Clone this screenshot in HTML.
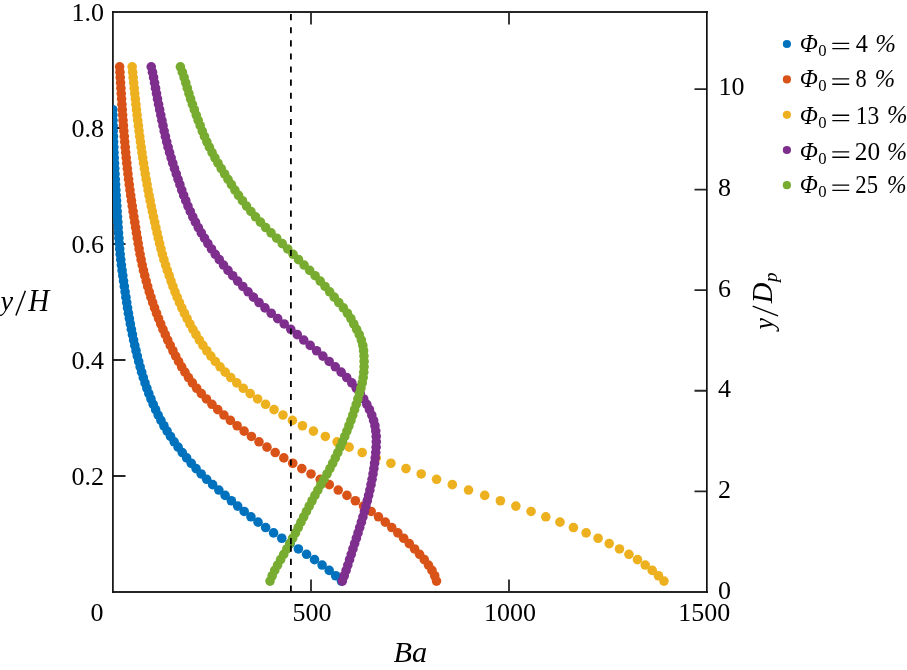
<!DOCTYPE html>
<html><head><meta charset="utf-8"><style>
html,body{margin:0;padding:0;background:#fff;overflow:hidden}
svg{display:block}
text{font-family:"Liberation Serif", serif;fill:#000}
.t{will-change:transform}
</style></head><body>
<svg width="907" height="670" viewBox="0 0 907 670">
<defs><clipPath id="c"><rect x="113.0" y="12.0" width="594.0" height="580.0"/></clipPath></defs>
<path d="M311.00 592.0V579.5M311.00 12.0V24.5M509.00 592.0V579.5M509.00 12.0V24.5M113.0 592.00H125.5M113.0 476.00H125.5M113.0 360.00H125.5M113.0 244.00H125.5M113.0 128.00H125.5M113.0 12.00H125.5M707.0 491.30H694.5M707.0 390.75H694.5M707.0 290.20H694.5M707.0 189.65H694.5M707.0 89.10H694.5" stroke="#262626" stroke-width="1.8" fill="none"/>
<path d="M112.1 12.0H707.9M112.1 592.0H707.9" stroke="#262626" stroke-width="1.8" fill="none"/>
<path d="M112.9 11.1V592.9M706.85 11.1V592.9" stroke="#111" stroke-width="1.7" fill="none"/>
<g clip-path="url(#c)">
<g fill="#0072BD"><circle cx="112.76" cy="109.66" r="4.8"/><circle cx="112.86" cy="115.02" r="4.8"/><circle cx="112.97" cy="120.37" r="4.8"/><circle cx="113.10" cy="125.73" r="4.8"/><circle cx="113.25" cy="131.09" r="4.8"/><circle cx="113.42" cy="136.44" r="4.8"/><circle cx="113.60" cy="141.80" r="4.8"/><circle cx="113.80" cy="147.16" r="4.8"/><circle cx="114.02" cy="152.52" r="4.8"/><circle cx="114.25" cy="157.87" r="4.8"/><circle cx="114.49" cy="163.23" r="4.8"/><circle cx="114.75" cy="168.59" r="4.8"/><circle cx="115.02" cy="173.95" r="4.8"/><circle cx="115.30" cy="179.30" r="4.8"/><circle cx="115.59" cy="184.66" r="4.8"/><circle cx="115.89" cy="190.02" r="4.8"/><circle cx="116.20" cy="195.38" r="4.8"/><circle cx="116.52" cy="200.73" r="4.8"/><circle cx="116.84" cy="206.09" r="4.8"/><circle cx="117.17" cy="211.45" r="4.8"/><circle cx="117.51" cy="216.80" r="4.8"/><circle cx="117.84" cy="222.16" r="4.8"/><circle cx="118.19" cy="227.52" r="4.8"/><circle cx="118.53" cy="232.88" r="4.8"/><circle cx="118.90" cy="238.23" r="4.8"/><circle cx="119.29" cy="243.59" r="4.8"/><circle cx="119.72" cy="248.95" r="4.8"/><circle cx="120.20" cy="254.31" r="4.8"/><circle cx="120.76" cy="259.66" r="4.8"/><circle cx="121.39" cy="265.02" r="4.8"/><circle cx="122.07" cy="270.38" r="4.8"/><circle cx="122.80" cy="275.73" r="4.8"/><circle cx="123.56" cy="281.09" r="4.8"/><circle cx="124.33" cy="286.45" r="4.8"/><circle cx="125.12" cy="291.81" r="4.8"/><circle cx="125.91" cy="297.16" r="4.8"/><circle cx="126.72" cy="302.52" r="4.8"/><circle cx="127.55" cy="307.88" r="4.8"/><circle cx="128.43" cy="313.24" r="4.8"/><circle cx="129.36" cy="318.59" r="4.8"/><circle cx="130.34" cy="323.95" r="4.8"/><circle cx="131.37" cy="329.31" r="4.8"/><circle cx="132.46" cy="334.66" r="4.8"/><circle cx="133.60" cy="340.02" r="4.8"/><circle cx="134.78" cy="345.38" r="4.8"/><circle cx="136.02" cy="350.74" r="4.8"/><circle cx="137.32" cy="356.09" r="4.8"/><circle cx="138.69" cy="361.45" r="4.8"/><circle cx="140.13" cy="366.81" r="4.8"/><circle cx="141.66" cy="372.17" r="4.8"/><circle cx="143.29" cy="377.52" r="4.8"/><circle cx="145.02" cy="382.88" r="4.8"/><circle cx="146.87" cy="388.24" r="4.8"/><circle cx="148.84" cy="393.59" r="4.8"/><circle cx="150.95" cy="398.95" r="4.8"/><circle cx="153.20" cy="404.31" r="4.8"/><circle cx="155.60" cy="409.67" r="4.8"/><circle cx="158.18" cy="415.02" r="4.8"/><circle cx="160.94" cy="420.38" r="4.8"/><circle cx="163.91" cy="425.74" r="4.8"/><circle cx="167.09" cy="431.10" r="4.8"/><circle cx="170.52" cy="436.45" r="4.8"/><circle cx="174.19" cy="441.81" r="4.8"/><circle cx="178.11" cy="447.17" r="4.8"/><circle cx="182.26" cy="452.53" r="4.8"/><circle cx="186.63" cy="457.88" r="4.8"/><circle cx="191.23" cy="463.24" r="4.8"/><circle cx="196.06" cy="468.60" r="4.8"/><circle cx="201.18" cy="473.95" r="4.8"/><circle cx="206.69" cy="479.31" r="4.8"/><circle cx="212.63" cy="484.67" r="4.8"/><circle cx="218.84" cy="490.03" r="4.8"/><circle cx="225.11" cy="495.38" r="4.8"/><circle cx="231.36" cy="500.74" r="4.8"/><circle cx="237.68" cy="506.10" r="4.8"/><circle cx="244.17" cy="511.46" r="4.8"/><circle cx="250.94" cy="516.81" r="4.8"/><circle cx="258.07" cy="522.17" r="4.8"/><circle cx="265.65" cy="527.53" r="4.8"/><circle cx="273.59" cy="532.88" r="4.8"/><circle cx="281.77" cy="538.24" r="4.8"/><circle cx="290.08" cy="543.60" r="4.8"/><circle cx="298.39" cy="548.96" r="4.8"/><circle cx="306.58" cy="554.31" r="4.8"/><circle cx="314.52" cy="559.67" r="4.8"/><circle cx="322.10" cy="565.03" r="4.8"/><circle cx="329.18" cy="570.39" r="4.8"/><circle cx="335.66" cy="575.74" r="4.8"/><circle cx="341.40" cy="581.10" r="4.8"/></g>
<g fill="#D95319"><circle cx="119.61" cy="66.80" r="4.8"/><circle cx="119.93" cy="72.16" r="4.8"/><circle cx="120.25" cy="77.51" r="4.8"/><circle cx="120.57" cy="82.87" r="4.8"/><circle cx="120.90" cy="88.23" r="4.8"/><circle cx="121.23" cy="93.59" r="4.8"/><circle cx="121.57" cy="98.94" r="4.8"/><circle cx="121.92" cy="104.30" r="4.8"/><circle cx="122.28" cy="109.66" r="4.8"/><circle cx="122.65" cy="115.02" r="4.8"/><circle cx="123.03" cy="120.37" r="4.8"/><circle cx="123.43" cy="125.73" r="4.8"/><circle cx="123.85" cy="131.09" r="4.8"/><circle cx="124.28" cy="136.44" r="4.8"/><circle cx="124.74" cy="141.80" r="4.8"/><circle cx="125.21" cy="147.16" r="4.8"/><circle cx="125.71" cy="152.52" r="4.8"/><circle cx="126.23" cy="157.87" r="4.8"/><circle cx="126.78" cy="163.23" r="4.8"/><circle cx="127.35" cy="168.59" r="4.8"/><circle cx="127.96" cy="173.95" r="4.8"/><circle cx="128.59" cy="179.30" r="4.8"/><circle cx="129.26" cy="184.66" r="4.8"/><circle cx="129.96" cy="190.02" r="4.8"/><circle cx="130.69" cy="195.38" r="4.8"/><circle cx="131.46" cy="200.73" r="4.8"/><circle cx="132.26" cy="206.09" r="4.8"/><circle cx="133.08" cy="211.45" r="4.8"/><circle cx="133.92" cy="216.80" r="4.8"/><circle cx="134.77" cy="222.16" r="4.8"/><circle cx="135.61" cy="227.52" r="4.8"/><circle cx="136.45" cy="232.88" r="4.8"/><circle cx="137.30" cy="238.23" r="4.8"/><circle cx="138.18" cy="243.59" r="4.8"/><circle cx="139.10" cy="248.95" r="4.8"/><circle cx="140.07" cy="254.31" r="4.8"/><circle cx="141.12" cy="259.66" r="4.8"/><circle cx="142.25" cy="265.02" r="4.8"/><circle cx="143.47" cy="270.38" r="4.8"/><circle cx="144.78" cy="275.73" r="4.8"/><circle cx="146.18" cy="281.09" r="4.8"/><circle cx="147.67" cy="286.45" r="4.8"/><circle cx="149.26" cy="291.81" r="4.8"/><circle cx="150.93" cy="297.16" r="4.8"/><circle cx="152.70" cy="302.52" r="4.8"/><circle cx="154.56" cy="307.88" r="4.8"/><circle cx="156.51" cy="313.24" r="4.8"/><circle cx="158.56" cy="318.59" r="4.8"/><circle cx="160.70" cy="323.95" r="4.8"/><circle cx="162.94" cy="329.31" r="4.8"/><circle cx="165.28" cy="334.66" r="4.8"/><circle cx="167.72" cy="340.02" r="4.8"/><circle cx="170.26" cy="345.38" r="4.8"/><circle cx="172.92" cy="350.74" r="4.8"/><circle cx="175.69" cy="356.09" r="4.8"/><circle cx="178.58" cy="361.45" r="4.8"/><circle cx="181.64" cy="366.81" r="4.8"/><circle cx="184.93" cy="372.17" r="4.8"/><circle cx="188.49" cy="377.52" r="4.8"/><circle cx="192.38" cy="382.88" r="4.8"/><circle cx="196.65" cy="388.24" r="4.8"/><circle cx="201.34" cy="393.59" r="4.8"/><circle cx="206.44" cy="398.95" r="4.8"/><circle cx="211.93" cy="404.31" r="4.8"/><circle cx="217.76" cy="409.67" r="4.8"/><circle cx="223.93" cy="415.02" r="4.8"/><circle cx="230.38" cy="420.38" r="4.8"/><circle cx="237.10" cy="425.74" r="4.8"/><circle cx="244.11" cy="431.10" r="4.8"/><circle cx="251.40" cy="436.45" r="4.8"/><circle cx="259.00" cy="441.81" r="4.8"/><circle cx="266.94" cy="447.17" r="4.8"/><circle cx="275.21" cy="452.53" r="4.8"/><circle cx="283.83" cy="457.88" r="4.8"/><circle cx="292.73" cy="463.24" r="4.8"/><circle cx="301.82" cy="468.60" r="4.8"/><circle cx="311.00" cy="473.95" r="4.8"/><circle cx="320.19" cy="479.31" r="4.8"/><circle cx="329.30" cy="484.67" r="4.8"/><circle cx="338.23" cy="490.03" r="4.8"/><circle cx="346.93" cy="495.38" r="4.8"/><circle cx="355.36" cy="500.74" r="4.8"/><circle cx="363.46" cy="506.10" r="4.8"/><circle cx="371.18" cy="511.46" r="4.8"/><circle cx="378.48" cy="516.81" r="4.8"/><circle cx="385.32" cy="522.17" r="4.8"/><circle cx="391.75" cy="527.53" r="4.8"/><circle cx="397.84" cy="532.88" r="4.8"/><circle cx="403.67" cy="538.24" r="4.8"/><circle cx="409.24" cy="543.60" r="4.8"/><circle cx="414.57" cy="548.96" r="4.8"/><circle cx="419.62" cy="554.31" r="4.8"/><circle cx="424.28" cy="559.67" r="4.8"/><circle cx="428.44" cy="565.03" r="4.8"/><circle cx="431.96" cy="570.39" r="4.8"/><circle cx="434.69" cy="575.74" r="4.8"/><circle cx="436.52" cy="581.10" r="4.8"/></g>
<g fill="#EDB120"><circle cx="132.17" cy="66.80" r="4.8"/><circle cx="132.66" cy="72.16" r="4.8"/><circle cx="133.16" cy="77.51" r="4.8"/><circle cx="133.68" cy="82.87" r="4.8"/><circle cx="134.21" cy="88.23" r="4.8"/><circle cx="134.75" cy="93.59" r="4.8"/><circle cx="135.31" cy="98.94" r="4.8"/><circle cx="135.89" cy="104.30" r="4.8"/><circle cx="136.48" cy="109.66" r="4.8"/><circle cx="137.09" cy="115.02" r="4.8"/><circle cx="137.72" cy="120.37" r="4.8"/><circle cx="138.37" cy="125.73" r="4.8"/><circle cx="139.04" cy="131.09" r="4.8"/><circle cx="139.73" cy="136.44" r="4.8"/><circle cx="140.44" cy="141.80" r="4.8"/><circle cx="141.17" cy="147.16" r="4.8"/><circle cx="141.93" cy="152.52" r="4.8"/><circle cx="142.72" cy="157.87" r="4.8"/><circle cx="143.53" cy="163.23" r="4.8"/><circle cx="144.37" cy="168.59" r="4.8"/><circle cx="145.25" cy="173.95" r="4.8"/><circle cx="146.16" cy="179.30" r="4.8"/><circle cx="147.10" cy="184.66" r="4.8"/><circle cx="148.08" cy="190.02" r="4.8"/><circle cx="149.10" cy="195.38" r="4.8"/><circle cx="150.16" cy="200.73" r="4.8"/><circle cx="151.25" cy="206.09" r="4.8"/><circle cx="152.37" cy="211.45" r="4.8"/><circle cx="153.52" cy="216.80" r="4.8"/><circle cx="154.69" cy="222.16" r="4.8"/><circle cx="155.88" cy="227.52" r="4.8"/><circle cx="157.08" cy="232.88" r="4.8"/><circle cx="158.32" cy="238.23" r="4.8"/><circle cx="159.60" cy="243.59" r="4.8"/><circle cx="160.95" cy="248.95" r="4.8"/><circle cx="162.38" cy="254.31" r="4.8"/><circle cx="163.93" cy="259.66" r="4.8"/><circle cx="165.59" cy="265.02" r="4.8"/><circle cx="167.35" cy="270.38" r="4.8"/><circle cx="169.18" cy="275.73" r="4.8"/><circle cx="171.05" cy="281.09" r="4.8"/><circle cx="172.98" cy="286.45" r="4.8"/><circle cx="175.00" cy="291.81" r="4.8"/><circle cx="177.15" cy="297.16" r="4.8"/><circle cx="179.43" cy="302.52" r="4.8"/><circle cx="181.85" cy="307.88" r="4.8"/><circle cx="184.40" cy="313.24" r="4.8"/><circle cx="187.08" cy="318.59" r="4.8"/><circle cx="189.91" cy="323.95" r="4.8"/><circle cx="192.88" cy="329.31" r="4.8"/><circle cx="196.02" cy="334.66" r="4.8"/><circle cx="199.36" cy="340.02" r="4.8"/><circle cx="202.93" cy="345.38" r="4.8"/><circle cx="206.76" cy="350.74" r="4.8"/><circle cx="210.87" cy="356.09" r="4.8"/><circle cx="215.30" cy="361.45" r="4.8"/><circle cx="220.08" cy="366.81" r="4.8"/><circle cx="225.23" cy="372.17" r="4.8"/><circle cx="230.78" cy="377.52" r="4.8"/><circle cx="236.78" cy="382.88" r="4.8"/><circle cx="243.23" cy="388.24" r="4.8"/><circle cx="250.18" cy="393.59" r="4.8"/><circle cx="257.63" cy="398.95" r="4.8"/><circle cx="265.58" cy="404.31" r="4.8"/><circle cx="274.03" cy="409.67" r="4.8"/><circle cx="282.98" cy="415.02" r="4.8"/><circle cx="292.43" cy="420.38" r="4.8"/><circle cx="302.45" cy="425.74" r="4.8"/><circle cx="313.42" cy="431.10" r="4.8"/><circle cx="325.36" cy="436.45" r="4.8"/><circle cx="337.11" cy="441.81" r="4.8"/><circle cx="349.11" cy="447.17" r="4.8"/><circle cx="362.21" cy="452.53" r="4.8"/><circle cx="376.24" cy="457.88" r="4.8"/><circle cx="390.92" cy="463.24" r="4.8"/><circle cx="405.99" cy="468.60" r="4.8"/><circle cx="421.20" cy="473.95" r="4.8"/><circle cx="436.58" cy="479.31" r="4.8"/><circle cx="452.32" cy="484.67" r="4.8"/><circle cx="468.53" cy="490.03" r="4.8"/><circle cx="484.73" cy="495.38" r="4.8"/><circle cx="500.42" cy="500.74" r="4.8"/><circle cx="515.85" cy="506.10" r="4.8"/><circle cx="531.06" cy="511.46" r="4.8"/><circle cx="545.82" cy="516.81" r="4.8"/><circle cx="559.98" cy="522.17" r="4.8"/><circle cx="573.42" cy="527.53" r="4.8"/><circle cx="586.14" cy="532.88" r="4.8"/><circle cx="598.08" cy="538.24" r="4.8"/><circle cx="609.21" cy="543.60" r="4.8"/><circle cx="619.50" cy="548.96" r="4.8"/><circle cx="628.93" cy="554.31" r="4.8"/><circle cx="637.50" cy="559.67" r="4.8"/><circle cx="645.25" cy="565.03" r="4.8"/><circle cx="652.22" cy="570.39" r="4.8"/><circle cx="658.44" cy="575.74" r="4.8"/><circle cx="663.96" cy="581.10" r="4.8"/></g>
<g fill="#7E2F8E"><circle cx="151.22" cy="66.80" r="4.8"/><circle cx="152.47" cy="72.16" r="4.8"/><circle cx="153.57" cy="77.51" r="4.8"/><circle cx="154.58" cy="82.87" r="4.8"/><circle cx="155.54" cy="88.23" r="4.8"/><circle cx="156.49" cy="93.59" r="4.8"/><circle cx="157.49" cy="98.94" r="4.8"/><circle cx="158.56" cy="104.30" r="4.8"/><circle cx="159.67" cy="109.66" r="4.8"/><circle cx="160.80" cy="115.02" r="4.8"/><circle cx="161.91" cy="120.37" r="4.8"/><circle cx="163.02" cy="125.73" r="4.8"/><circle cx="164.17" cy="131.09" r="4.8"/><circle cx="165.40" cy="136.44" r="4.8"/><circle cx="166.71" cy="141.80" r="4.8"/><circle cx="168.10" cy="147.16" r="4.8"/><circle cx="169.58" cy="152.52" r="4.8"/><circle cx="171.14" cy="157.87" r="4.8"/><circle cx="172.78" cy="163.23" r="4.8"/><circle cx="174.50" cy="168.59" r="4.8"/><circle cx="176.28" cy="173.95" r="4.8"/><circle cx="178.09" cy="179.30" r="4.8"/><circle cx="179.91" cy="184.66" r="4.8"/><circle cx="181.76" cy="190.02" r="4.8"/><circle cx="183.70" cy="195.38" r="4.8"/><circle cx="185.76" cy="200.73" r="4.8"/><circle cx="187.95" cy="206.09" r="4.8"/><circle cx="190.30" cy="211.45" r="4.8"/><circle cx="192.80" cy="216.80" r="4.8"/><circle cx="195.46" cy="222.16" r="4.8"/><circle cx="198.29" cy="227.52" r="4.8"/><circle cx="201.30" cy="232.88" r="4.8"/><circle cx="204.50" cy="238.23" r="4.8"/><circle cx="207.89" cy="243.59" r="4.8"/><circle cx="211.48" cy="248.95" r="4.8"/><circle cx="215.28" cy="254.31" r="4.8"/><circle cx="219.30" cy="259.66" r="4.8"/><circle cx="223.54" cy="265.02" r="4.8"/><circle cx="228.02" cy="270.38" r="4.8"/><circle cx="232.73" cy="275.73" r="4.8"/><circle cx="237.68" cy="281.09" r="4.8"/><circle cx="242.82" cy="286.45" r="4.8"/><circle cx="248.09" cy="291.81" r="4.8"/><circle cx="253.45" cy="297.16" r="4.8"/><circle cx="259.03" cy="302.52" r="4.8"/><circle cx="264.96" cy="307.88" r="4.8"/><circle cx="271.21" cy="313.24" r="4.8"/><circle cx="277.67" cy="318.59" r="4.8"/><circle cx="284.22" cy="323.95" r="4.8"/><circle cx="290.77" cy="329.31" r="4.8"/><circle cx="297.28" cy="334.66" r="4.8"/><circle cx="303.75" cy="340.02" r="4.8"/><circle cx="310.18" cy="345.38" r="4.8"/><circle cx="316.56" cy="350.74" r="4.8"/><circle cx="322.89" cy="356.09" r="4.8"/><circle cx="329.16" cy="361.45" r="4.8"/><circle cx="335.29" cy="366.81" r="4.8"/><circle cx="341.17" cy="372.17" r="4.8"/><circle cx="346.72" cy="377.52" r="4.8"/><circle cx="351.79" cy="382.88" r="4.8"/><circle cx="356.28" cy="388.24" r="4.8"/><circle cx="360.23" cy="393.59" r="4.8"/><circle cx="363.71" cy="398.95" r="4.8"/><circle cx="366.77" cy="404.31" r="4.8"/><circle cx="369.47" cy="409.67" r="4.8"/><circle cx="371.77" cy="415.02" r="4.8"/><circle cx="373.61" cy="420.38" r="4.8"/><circle cx="374.93" cy="425.74" r="4.8"/><circle cx="375.77" cy="431.10" r="4.8"/><circle cx="376.21" cy="436.45" r="4.8"/><circle cx="376.30" cy="441.81" r="4.8"/><circle cx="376.13" cy="447.17" r="4.8"/><circle cx="375.76" cy="452.53" r="4.8"/><circle cx="375.25" cy="457.88" r="4.8"/><circle cx="374.61" cy="463.24" r="4.8"/><circle cx="373.87" cy="468.60" r="4.8"/><circle cx="373.02" cy="473.95" r="4.8"/><circle cx="372.06" cy="479.31" r="4.8"/><circle cx="371.01" cy="484.67" r="4.8"/><circle cx="369.86" cy="490.03" r="4.8"/><circle cx="368.63" cy="495.38" r="4.8"/><circle cx="367.32" cy="500.74" r="4.8"/><circle cx="365.93" cy="506.10" r="4.8"/><circle cx="364.47" cy="511.46" r="4.8"/><circle cx="362.94" cy="516.81" r="4.8"/><circle cx="361.36" cy="522.17" r="4.8"/><circle cx="359.72" cy="527.53" r="4.8"/><circle cx="358.05" cy="532.88" r="4.8"/><circle cx="356.36" cy="538.24" r="4.8"/><circle cx="354.66" cy="543.60" r="4.8"/><circle cx="352.95" cy="548.96" r="4.8"/><circle cx="351.26" cy="554.31" r="4.8"/><circle cx="349.56" cy="559.67" r="4.8"/><circle cx="347.84" cy="565.03" r="4.8"/><circle cx="346.08" cy="570.39" r="4.8"/><circle cx="344.25" cy="575.74" r="4.8"/><circle cx="342.34" cy="581.10" r="4.8"/></g>
<g fill="#77AC30"><circle cx="180.39" cy="66.80" r="4.8"/><circle cx="182.36" cy="72.16" r="4.8"/><circle cx="184.13" cy="77.51" r="4.8"/><circle cx="185.77" cy="82.87" r="4.8"/><circle cx="187.34" cy="88.23" r="4.8"/><circle cx="188.93" cy="93.59" r="4.8"/><circle cx="190.60" cy="98.94" r="4.8"/><circle cx="192.40" cy="104.30" r="4.8"/><circle cx="194.31" cy="109.66" r="4.8"/><circle cx="196.26" cy="115.02" r="4.8"/><circle cx="198.21" cy="120.37" r="4.8"/><circle cx="200.20" cy="125.73" r="4.8"/><circle cx="202.27" cy="131.09" r="4.8"/><circle cx="204.49" cy="136.44" r="4.8"/><circle cx="206.86" cy="141.80" r="4.8"/><circle cx="209.39" cy="147.16" r="4.8"/><circle cx="212.08" cy="152.52" r="4.8"/><circle cx="214.95" cy="157.87" r="4.8"/><circle cx="218.00" cy="163.23" r="4.8"/><circle cx="221.23" cy="168.59" r="4.8"/><circle cx="224.58" cy="173.95" r="4.8"/><circle cx="227.99" cy="179.30" r="4.8"/><circle cx="231.41" cy="184.66" r="4.8"/><circle cx="234.89" cy="190.02" r="4.8"/><circle cx="238.53" cy="195.38" r="4.8"/><circle cx="242.40" cy="200.73" r="4.8"/><circle cx="246.52" cy="206.09" r="4.8"/><circle cx="250.90" cy="211.45" r="4.8"/><circle cx="255.55" cy="216.80" r="4.8"/><circle cx="260.46" cy="222.16" r="4.8"/><circle cx="265.65" cy="227.52" r="4.8"/><circle cx="271.09" cy="232.88" r="4.8"/><circle cx="276.67" cy="238.23" r="4.8"/><circle cx="282.24" cy="243.59" r="4.8"/><circle cx="287.70" cy="248.95" r="4.8"/><circle cx="293.08" cy="254.31" r="4.8"/><circle cx="298.52" cy="259.66" r="4.8"/><circle cx="304.09" cy="265.02" r="4.8"/><circle cx="309.67" cy="270.38" r="4.8"/><circle cx="315.09" cy="275.73" r="4.8"/><circle cx="320.22" cy="281.09" r="4.8"/><circle cx="325.05" cy="286.45" r="4.8"/><circle cx="329.68" cy="291.81" r="4.8"/><circle cx="334.21" cy="297.16" r="4.8"/><circle cx="338.78" cy="302.52" r="4.8"/><circle cx="343.34" cy="307.88" r="4.8"/><circle cx="347.45" cy="313.24" r="4.8"/><circle cx="350.87" cy="318.59" r="4.8"/><circle cx="353.76" cy="323.95" r="4.8"/><circle cx="356.62" cy="329.31" r="4.8"/><circle cx="359.26" cy="334.66" r="4.8"/><circle cx="361.39" cy="340.02" r="4.8"/><circle cx="362.80" cy="345.38" r="4.8"/><circle cx="363.59" cy="350.74" r="4.8"/><circle cx="363.97" cy="356.09" r="4.8"/><circle cx="364.12" cy="361.45" r="4.8"/><circle cx="364.07" cy="366.81" r="4.8"/><circle cx="363.77" cy="372.17" r="4.8"/><circle cx="363.19" cy="377.52" r="4.8"/><circle cx="362.22" cy="382.88" r="4.8"/><circle cx="360.89" cy="388.24" r="4.8"/><circle cx="359.43" cy="393.59" r="4.8"/><circle cx="357.89" cy="398.95" r="4.8"/><circle cx="356.27" cy="404.31" r="4.8"/><circle cx="354.57" cy="409.67" r="4.8"/><circle cx="352.78" cy="415.02" r="4.8"/><circle cx="350.91" cy="420.38" r="4.8"/><circle cx="348.95" cy="425.74" r="4.8"/><circle cx="346.90" cy="431.10" r="4.8"/><circle cx="344.76" cy="436.45" r="4.8"/><circle cx="342.53" cy="441.81" r="4.8"/><circle cx="340.22" cy="447.17" r="4.8"/><circle cx="337.81" cy="452.53" r="4.8"/><circle cx="335.31" cy="457.88" r="4.8"/><circle cx="332.70" cy="463.24" r="4.8"/><circle cx="329.93" cy="468.60" r="4.8"/><circle cx="327.00" cy="473.95" r="4.8"/><circle cx="323.95" cy="479.31" r="4.8"/><circle cx="320.88" cy="484.67" r="4.8"/><circle cx="317.87" cy="490.03" r="4.8"/><circle cx="314.93" cy="495.38" r="4.8"/><circle cx="312.05" cy="500.74" r="4.8"/><circle cx="309.23" cy="506.10" r="4.8"/><circle cx="306.45" cy="511.46" r="4.8"/><circle cx="303.70" cy="516.81" r="4.8"/><circle cx="300.96" cy="522.17" r="4.8"/><circle cx="298.23" cy="527.53" r="4.8"/><circle cx="295.47" cy="532.88" r="4.8"/><circle cx="292.67" cy="538.24" r="4.8"/><circle cx="289.79" cy="543.60" r="4.8"/><circle cx="286.81" cy="548.96" r="4.8"/><circle cx="283.73" cy="554.31" r="4.8"/><circle cx="280.61" cy="559.67" r="4.8"/><circle cx="277.58" cy="565.03" r="4.8"/><circle cx="274.73" cy="570.39" r="4.8"/><circle cx="272.18" cy="575.74" r="4.8"/><circle cx="270.03" cy="581.10" r="4.8"/></g>

</g>
<path d="M290.9 14.10V20.20M290.9 27.20V33.30M290.9 40.30V46.40M290.9 53.40V59.50M290.9 66.50V72.60M290.9 79.60V85.70M290.9 92.70V98.80M290.9 105.80V111.90M290.9 118.90V125.00M290.9 132.00V138.10M290.9 145.10V151.20M290.9 158.20V164.30M290.9 171.30V177.40M290.9 184.40V190.50M290.9 197.50V203.60M290.9 210.60V216.70M290.9 223.70V229.80M290.9 236.80V242.90M290.9 249.90V256.00M290.9 263.00V269.10M290.9 276.10V282.20M290.9 289.20V295.30M290.9 302.30V308.40M290.9 315.40V321.50M290.9 328.50V334.60M290.9 341.60V347.70M290.9 354.70V360.80M290.9 367.80V373.90M290.9 380.90V387.00M290.9 394.00V400.10M290.9 407.10V413.20M290.9 420.20V426.30M290.9 433.30V439.40M290.9 446.40V452.50M290.9 459.50V465.60M290.9 472.60V478.70M290.9 485.70V491.80M290.9 498.80V504.90M290.9 511.90V518.00M290.9 525.00V531.10M290.9 538.10V544.20M290.9 545.50V551.70M290.9 558.80V565.00M290.9 572.10V578.30M290.9 585.40V591.60" stroke="#000" stroke-width="1.8" fill="none"/>
<g class="t">
<g font-size="26">
<text x="97" y="621.4" text-anchor="middle">0</text><text x="312.0" y="621.4" text-anchor="middle">500</text><text x="510.0" y="621.4" text-anchor="middle">1000</text><text x="704.3" y="621.4" text-anchor="middle">1500</text><text x="104" y="484.70" text-anchor="end">0.2</text><text x="104" y="368.70" text-anchor="end">0.4</text><text x="104" y="252.70" text-anchor="end">0.6</text><text x="104" y="136.70" text-anchor="end">0.8</text><text x="104" y="20.70" text-anchor="end">1.0</text><text x="718.4" y="94.65">10</text><text x="718.0" y="195.70">8</text><text x="718.0" y="296.60">6</text><text x="718.0" y="397.30">4</text><text x="718.0" y="498.20">2</text><text x="718.0" y="599.30">0</text>
</g>
<text transform="translate(0.60 310.40) scale(1.0000 1)" font-size="28.36" font-style="italic">y</text><path d="M15.9 315.6L25.4 290.8" stroke="#000" stroke-width="1.5" fill="none"/><text transform="translate(28.19 310.60) scale(0.9414 1)" font-size="30.84" font-style="italic">H</text><text transform="translate(393.50 661.50) scale(1.0135 1)" font-size="29.92" font-style="italic">Ba</text><g transform="rotate(-90)"><text transform="translate(-329.50 772.66) scale(0.9516 1)" font-size="27.16" font-style="italic">y</text><text transform="translate(-303.21 772.40) scale(0.9633 1)" font-size="29.62" font-style="italic">D</text><text transform="translate(-281.96 776.84) scale(1.0367 1)" font-size="18.38" font-style="italic">p</text></g><path d="M752.7 306.1L778.0 315.9" stroke="#000" stroke-width="1.3" fill="none"/>
<circle cx="786.9" cy="44.00" r="4.1" fill="#0072BD"/>
<text transform="translate(799.71 51.62) scale(0.9728 1)" font-size="24.46" font-style="italic">Φ</text>
<text transform="translate(818.13 55.63) scale(0.9956 1)" font-size="16.74">0</text>
<path d="M832.3 43.35H849.2M832.3 48.65H849.2" stroke="#000" stroke-width="1.3"/>
<text transform="translate(855.81 51.83) scale(0.9573 1)" font-size="25.38">4</text>
<text transform="translate(875.33 51.63) scale(1.0049 1)" font-size="24.74" font-style="italic">%</text>
<circle cx="786.9" cy="79.40" r="4.1" fill="#D95319"/>
<text transform="translate(799.71 87.22) scale(0.9728 1)" font-size="24.46" font-style="italic">Φ</text>
<text transform="translate(818.13 91.23) scale(0.9956 1)" font-size="16.74">0</text>
<path d="M832.3 78.95H849.2M832.3 84.25H849.2" stroke="#000" stroke-width="1.3"/>
<text transform="translate(855.40 87.05) scale(0.8887 1)" font-size="25.19">8</text>
<text transform="translate(874.76 86.92) scale(0.9706 1)" font-size="25.19" font-style="italic">%</text>
<circle cx="786.9" cy="114.80" r="4.1" fill="#EDB120"/>
<text transform="translate(799.71 123.52) scale(0.9728 1)" font-size="24.46" font-style="italic">Φ</text>
<text transform="translate(818.13 127.53) scale(0.9956 1)" font-size="16.74">0</text>
<path d="M832.3 115.25H849.2M832.3 120.55H849.2" stroke="#000" stroke-width="1.3"/>
<text transform="translate(855.68 123.65) scale(0.9287 1)" font-size="25.37">13</text>
<text transform="translate(886.95 123.23) scale(1.0057 1)" font-size="24.44" font-style="italic">%</text>
<circle cx="786.9" cy="150.00" r="4.1" fill="#7E2F8E"/>
<text transform="translate(799.71 160.22) scale(0.9728 1)" font-size="24.46" font-style="italic">Φ</text>
<text transform="translate(818.13 164.23) scale(0.9956 1)" font-size="16.74">0</text>
<path d="M832.3 151.95H849.2M832.3 157.25H849.2" stroke="#000" stroke-width="1.3"/>
<text transform="translate(854.86 160.25) scale(1.0068 1)" font-size="25.19">20</text>
<text transform="translate(886.98 160.03) scale(0.9712 1)" font-size="24.74" font-style="italic">%</text>
<circle cx="786.9" cy="185.20" r="4.1" fill="#77AC30"/>
<text transform="translate(799.71 193.32) scale(0.9728 1)" font-size="24.46" font-style="italic">Φ</text>
<text transform="translate(818.13 197.33) scale(0.9956 1)" font-size="16.74">0</text>
<path d="M832.3 185.05H849.2M832.3 190.35H849.2" stroke="#000" stroke-width="1.3"/>
<text transform="translate(855.28 193.15) scale(0.9066 1)" font-size="25.07">25</text>
<text transform="translate(887.01 193.13) scale(0.9544 1)" font-size="24.59" font-style="italic">%</text>
</g>
</svg>
</body></html>
